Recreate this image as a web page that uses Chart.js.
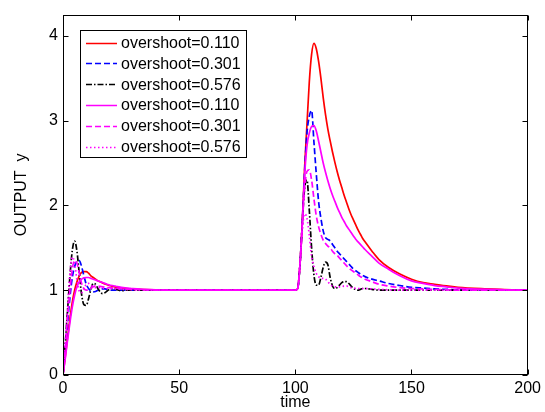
<!DOCTYPE html>
<html>
<head>
<meta charset="utf-8">
<script src="https://cdn.jsdelivr.net/npm/chart.js@4.4.1/dist/chart.umd.min.js"></script>
<style>
html,body{margin:0;padding:0;background:#fff;}
#wrap{width:545px;height:412px;}
</style>
</head>
<body>
<div id="wrap"><canvas id="c" width="545" height="412"></canvas></div>
<script>
// ---- data ----
const times = [0,1,2,3,4,5,6,7,8,9,10,11,12,13,14,15,16,17,18,19,20,21,22,23,24,25,26,27,28,29,30,
  35,40,50,60,70,80,90,100,
  101,102,103,104,105,106,107,108,109,110,111,112,113,114,115,116,117,118,119,120,121,122,123,124,125,126,127,128,129,130,
  133,136,140,145,150,155,160,165,170,180,190,200];

const labels = ['overshoot=0.110','overshoot=0.301','overshoot=0.576','overshoot=0.110','overshoot=0.301','overshoot=0.576'];

const redSolid = [0,0.22,0.45,0.67,0.86,1.0,1.1,1.17,1.21,1.22,1.22,
  1.2,1.17,1.15,1.13,1.11,1.1,1.085,1.075,1.065,1.055,
  1.048,1.042,1.036,1.031,1.027,1.023,1.02,1.017,1.015,1.013,
  1.006,1.003,1.0,1.0,1.0,1.0,1.0,1.0,
  1.02,1.3,1.8,2.45,2.95,3.45,3.78,3.91,3.85,3.7,
  3.5,3.27,3.07,2.9,2.76,2.63,2.51,2.4,2.3,2.21,
  2.12,2.04,1.96,1.89,1.83,1.77,1.71,1.66,1.61,1.57,
  1.46,1.36,1.27,1.19,1.13,1.09,1.07,1.05,1.035,1.018,1.008,1.0];

const blueDashed = [0,0.3,0.62,0.92,1.15,1.28,1.34,1.35,1.28,1.17,1.07,
  1.02,0.99,0.98,0.985,1.0,1.01,1.015,1.015,1.01,1.005,
  1.0,1.0,1.0,1.0,1.0,1.0,1.0,1.0,1.0,1.0,
  1.0,1.0,1.0,1.0,1.0,1.0,1.0,1.0,
  1.02,1.3,1.8,2.4,2.85,3.05,3.12,2.75,2.38,2.05,
  1.85,1.7,1.62,1.6,1.58,1.54,1.5,1.46,1.43,1.4,
  1.37,1.34,1.31,1.28,1.25,1.23,1.21,1.19,1.175,1.16,
  1.13,1.11,1.08,1.055,1.035,1.025,1.015,1.01,1.005,1.0,1.0,1.0];

const blackDashDot = [0,0.38,0.78,1.17,1.47,1.58,1.46,1.2,0.95,0.83,0.82,
  0.9,1.01,1.08,1.07,1.02,0.98,0.96,0.97,0.99,1.01,
  1.02,1.02,1.01,1.0,0.995,0.995,1.0,1.0,1.0,1.0,
  1.0,1.0,1.0,1.0,1.0,1.0,1.0,1.0,
  1.02,1.3,1.8,2.2,2.3,1.95,1.5,1.18,1.06,1.06,
  1.15,1.27,1.33,1.3,1.15,1.05,1.02,1.03,1.06,1.09,
  1.1,1.1,1.08,1.05,1.02,1.01,1.0,1.01,1.02,1.02,
  1.01,1.0,1.0,1.0,1.0,1.0,1.0,1.0,1.0,1.0,1.0,1.0];

const magentaSolid = [0,0.2,0.42,0.62,0.8,0.94,1.04,1.1,1.13,1.145,1.15,
  1.15,1.14,1.13,1.12,1.11,1.1,1.09,1.08,1.07,1.06,
  1.055,1.05,1.044,1.04,1.035,1.03,1.027,1.024,1.021,1.018,
  1.01,1.005,1.0,1.0,1.0,1.0,1.0,1.0,
  1.02,1.3,1.78,2.35,2.7,2.85,2.93,2.94,2.88,2.76,
  2.63,2.5,2.39,2.29,2.2,2.12,2.05,1.98,1.92,1.86,
  1.81,1.76,1.72,1.68,1.64,1.6,1.57,1.54,1.51,1.48,
  1.4,1.32,1.25,1.17,1.11,1.08,1.055,1.04,1.025,1.012,1.005,1.0];

const magentaDashed = [0,0.32,0.68,1.0,1.25,1.35,1.32,1.2,1.08,1.02,1.0,
  1.0,1.02,1.04,1.05,1.05,1.045,1.04,1.035,1.03,1.03,
  1.027,1.025,1.022,1.02,1.018,1.016,1.014,1.012,1.01,1.009,
  1.005,1.002,1.0,1.0,1.0,1.0,1.0,1.0,
  1.02,1.3,1.78,2.2,2.4,2.42,2.3,2.08,1.88,1.75,
  1.66,1.59,1.55,1.52,1.5,1.46,1.43,1.41,1.38,1.35,
  1.32,1.29,1.26,1.24,1.22,1.2,1.18,1.16,1.145,1.13,
  1.1,1.07,1.05,1.03,1.02,1.015,1.01,1.005,1.0,1.0,1.0,1.0];

const magentaDotted = [0,0.38,0.8,1.2,1.39,1.32,1.12,0.99,0.97,1.02,1.07,
  1.08,1.06,1.04,1.03,1.03,1.03,1.025,1.02,1.02,1.02,
  1.018,1.016,1.014,1.012,1.01,1.01,1.008,1.007,1.006,1.005,
  1.003,1.0,1.0,1.0,1.0,1.0,1.0,1.0,
  1.02,1.3,1.7,1.9,1.85,1.65,1.4,1.28,1.2,1.16,
  1.14,1.14,1.13,1.1,1.07,1.05,1.04,1.04,1.04,1.04,
  1.05,1.05,1.04,1.03,1.03,1.02,1.02,1.02,1.02,1.02,
  1.015,1.01,1.005,1.0,1.0,1.0,1.0,1.0,1.0,1.0,1.0,1.0];

const xTicks = [0,50,100,150,200];
const yTicks = [0,1,2,3,4];

// ---- build chart ----
const seriesList = [redSolid, blueDashed, blackDashDot, magentaSolid, magentaDashed, magentaDotted];
const colors = ['#ff0000','#0000ff','#000000','#ff00ff','#ff00ff','#ff00ff'];
const dashes = [[], [6,3], [6,2,1.5,2], [], [6,3], [1.5,2.5]];

const datasets = seriesList.map((arr, i) => ({
  label: labels[i],
  data: times.map((t, k) => ({x: t, y: arr[k]})),
  borderColor: colors[i],
  backgroundColor: colors[i],
  borderDash: dashes[i],
  borderWidth: 1.7,
  pointRadius: 0,
  fill: false,
  cubicInterpolationMode: 'monotone',
  order: seriesList.length - 1 - i
}));

const FONT = 'Liberation Sans, Arial, sans-serif';

const framePlugin = {
  id: 'frame',
  afterDatasetsDraw(chart) {
    const ctx = chart.ctx;
    const bx = 80.5, by = 30.5, bw = 166, bh = 127;
    ctx.save();
    ctx.fillStyle = '#fff';
    ctx.fillRect(bx, by, bw, bh);
    ctx.strokeStyle = '#000';
    ctx.lineWidth = 1;
    ctx.setLineDash([]);
    ctx.strokeRect(bx, by, bw, bh);
    ctx.font = '16px ' + FONT;
    ctx.textBaseline = 'middle';
    ctx.textAlign = 'left';
    chart.data.datasets.forEach((ds, i) => {
      const y = 42.5 + i * 20.8;
      ctx.beginPath();
      ctx.strokeStyle = ds.borderColor;
      ctx.lineWidth = 1.5;
      ctx.setLineDash(ds.borderDash);
      ctx.moveTo(86, Math.round(y) + 0.5);
      ctx.lineTo(117, Math.round(y) + 0.5);
      ctx.stroke();
      ctx.setLineDash([]);
      ctx.fillStyle = '#000';
      ctx.fillText(ds.label, 121, y + 1);
    });
    ctx.restore();
  },
  afterDraw(chart) {
    const ctx = chart.ctx;
    const a = chart.chartArea;
    const xs = chart.scales.x, ys = chart.scales.y;
    ctx.save();
    ctx.strokeStyle = '#000';
    ctx.lineWidth = 1;
    ctx.setLineDash([]);
    const L = Math.round(a.left) + 0.5, R = Math.round(a.right) - 0.5;
    const T = Math.round(a.top) + 0.5, B = Math.round(a.bottom) - 0.5;
    ctx.strokeRect(L, T, R - L, B - T);
    const tl = 5;
    ctx.beginPath();
    xTicks.forEach(v => {
      const px = Math.round(xs.getPixelForValue(v)) + 0.5;
      ctx.moveTo(px, B); ctx.lineTo(px, B - tl);
      ctx.moveTo(px, T); ctx.lineTo(px, T + tl);
    });
    yTicks.forEach(v => {
      const py = Math.round(ys.getPixelForValue(v)) + 0.5;
      ctx.moveTo(L, py); ctx.lineTo(L + tl, py);
      ctx.moveTo(R, py); ctx.lineTo(R - tl, py);
    });
    ctx.stroke();
    ctx.restore();
  }
};

new Chart(document.getElementById('c'), {
  type: 'line',
  data: { datasets },
  options: {
    responsive: false,
    animation: false,
    events: [],
    layout: { padding: { top: 13, right: 17, left: 0, bottom: 0 } },
    plugins: { legend: { display: false }, tooltip: { enabled: false } },
    scales: {
      x: {
        type: 'linear', min: 0, max: 200,
        grid: { display: false, drawTicks: false },
        border: { display: false },
        afterBuildTicks: s => { s.ticks = xTicks.map(v => ({value: v})); },
        afterFit: s => { s.height = 37; },
        ticks: { color: '#000', font: { family: FONT, size: 16 }, padding: 4, maxRotation: 0, autoSkip: false },
        title: { display: true, text: 'time', color: '#000', font: { family: FONT, size: 16 }, padding: { top: 0, bottom: 0 } }
      },
      y: {
        type: 'linear', min: 0, max: 4.25,
        grid: { display: false, drawTicks: false },
        border: { display: false },
        afterBuildTicks: s => { s.ticks = yTicks.map(v => ({value: v})); },
        afterFit: s => { s.width = 63; },
        ticks: { color: '#000', font: { family: FONT, size: 16 }, padding: 5, autoSkip: false },
        title: { display: true, text: 'OUTPUT  y', color: '#000', font: { family: FONT, size: 16 }, padding: { top: 12, bottom: 0 } }
      }
    }
  },
  plugins: [framePlugin]
});
</script>
</body>
</html>
